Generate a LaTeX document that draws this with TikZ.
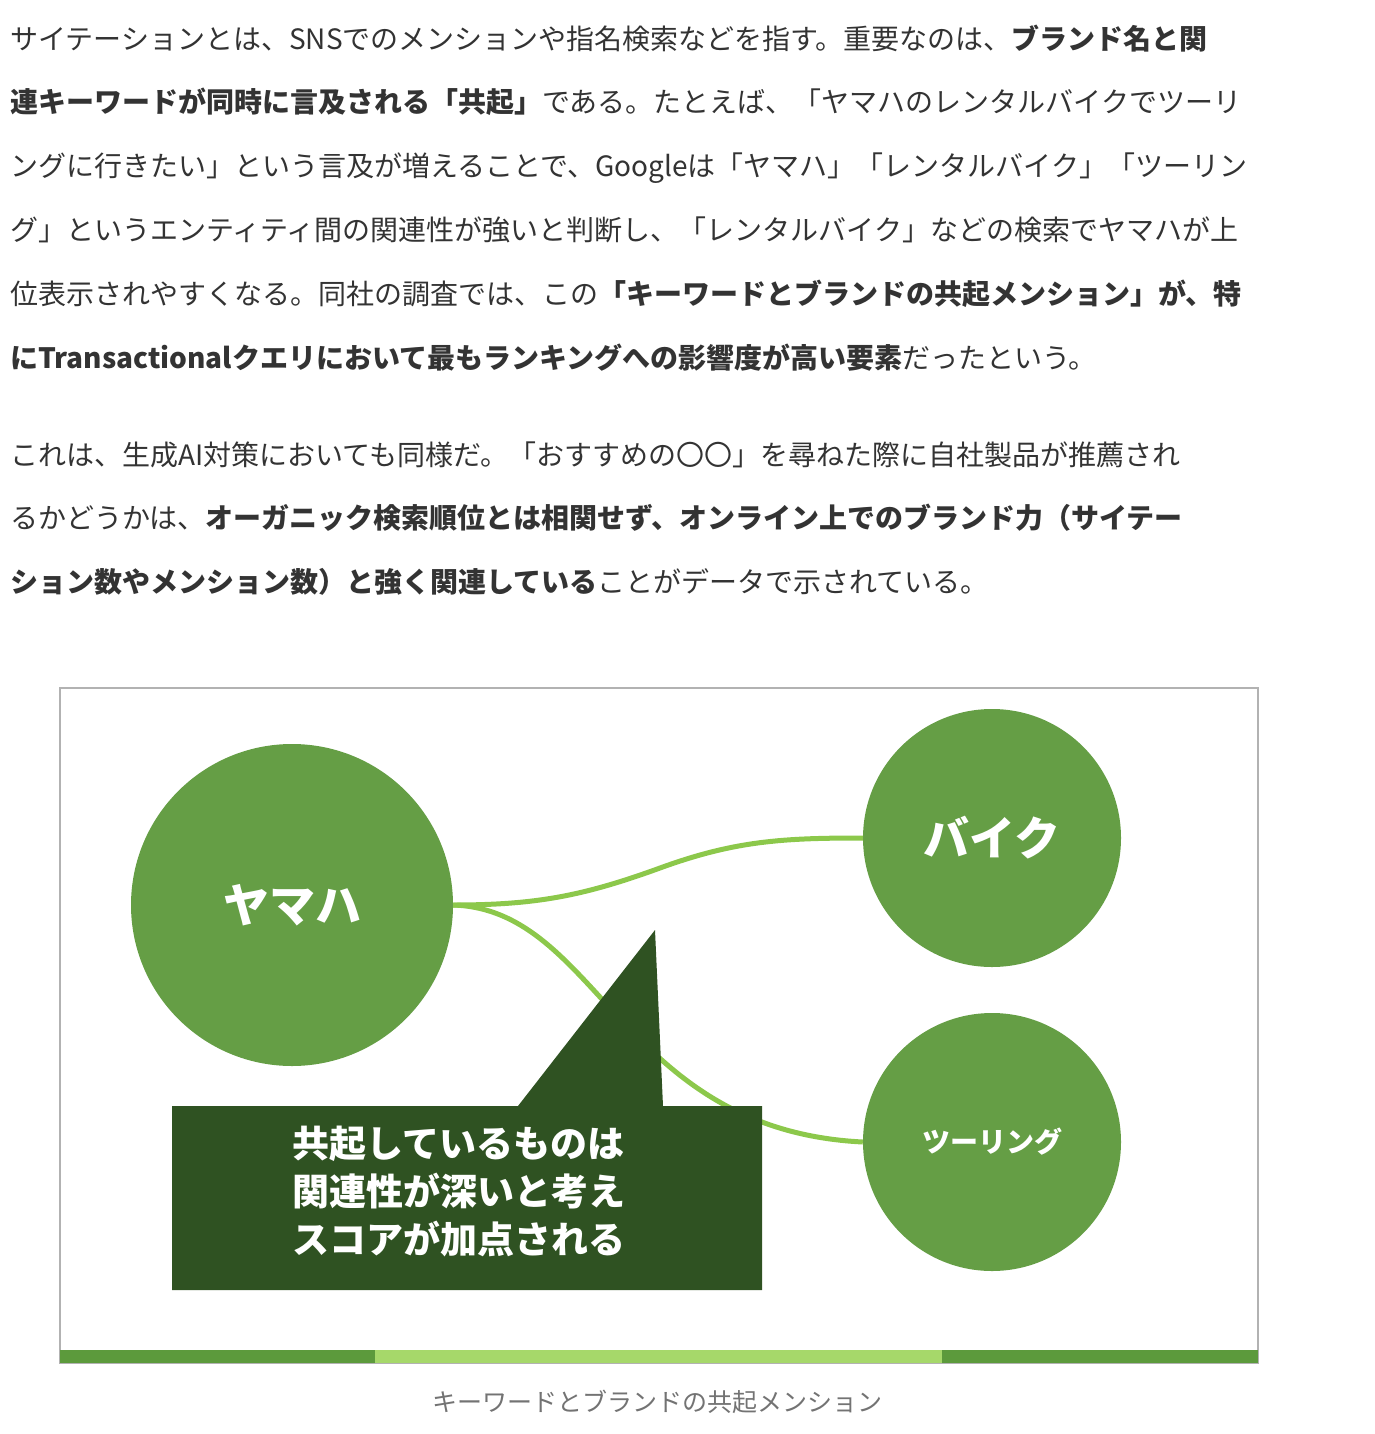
\documentclass[tikz,border=0pt]{standalone}
\usepackage{fontspec}
\setmainfont{Noto Sans CJK JP}
\usepackage{xcolor}
\definecolor{body}{HTML}{333333}
\definecolor{disc}{HTML}{659E45}
\definecolor{link}{HTML}{8CC84B}
\definecolor{callout}{HTML}{2F5222}
\definecolor{bandA}{HTML}{5C9A3C}
\definecolor{bandB}{HTML}{A6D86A}
\newcommand{\para}{\fontsize{28}{34}\selectfont}

\begin{document}
\begin{tikzpicture}[x=1pt, y=-1pt,
  line/.style = {anchor=base west, inner sep=0pt, text=body, font=\para},
  word/.style = {draw=none, circle, fill=disc, text=white, font=\bfseries},
  tie/.style = {draw=link, line width=5pt}]
  \useasboundingbox (0,0) rectangle (1374,1434);
  % paragraphs
  \node[line] (l1) at (10,50) {サイテーションとは、SNSでのメンションや指名検索などを指す。重要なのは、\textbf{ブランド名と関}};
  \node[line] (l2) at (10,113) {\textbf{連キーワードが同時に言及される「共起」}である。たとえば、「ヤマハのレンタルバイクでツーリ};
  \node[line] (l3) at (10,177) {ングに行きたい」という言及が増えることで、Googleは「ヤマハ」「レンタルバイク」「ツーリン};
  \node[line] (l4) at (10,240) {グ」というエンティティ間の関連性が強いと判断し、「レンタルバイク」などの検索でヤマハが上};
  \node[line] (l5) at (10,304) {位表示されやすくなる。同社の調査では、この\textbf{「キーワードとブランドの共起メンション」が、特}};
  \node[line] (l6) at (10,368) {\textbf{にTransactionalクエリにおいて最もランキングへの影響度が高い要素}だったという。};
  \node[line] (l7) at (10,465) {これは、生成AI対策においても同様だ。「おすすめの〇〇」を尋ねた際に自社製品が推薦され};
  \node[line] (l8) at (10,528) {るかどうかは、\textbf{オーガニック検索順位とは相関せず、オンライン上でのブランド力（サイテー}};
  \node[line] (l9) at (10,592) {\textbf{ション数やメンション数）と強く関連している}ことがデータで示されている。};
  % figure
  \draw[draw=gray!60, line width=1.5pt] (60,688) rectangle (1258,1363);
  \fill[bandA] (60,1350) rectangle (375,1363);
  \fill[bandB] (375,1350) rectangle (942,1363);
  \fill[bandA] (942,1350) rectangle (1258,1363);
  \node[word, minimum size=322pt, font=\bfseries\fontsize{46}{50}\selectfont] (yamaha) at (292,905) {ヤマハ};
  \node[word, minimum size=258pt, font=\bfseries\fontsize{46}{50}\selectfont] (bike) at (992,838) {バイク};
  \node[word, minimum size=258pt, font=\bfseries\fontsize{28}{32}\selectfont] (touring) at (992,1142) {ツーリング};
  \coordinate (kink) at (660,868);
  \draw[tie] (yamaha.east) to[out=0, in=200] (kink) to[out=20, in=180] (bike.west);
  \draw[tie] (yamaha.east) .. controls (600,910) and (620,1130) .. (touring.west);
  \fill[callout] (172,1106) -- (518,1106) -- (655,930) -- (663,1106) -- (762,1106)
    -- (762,1290) -- (172,1290) -- cycle;
  \node[anchor=north west, text=white, align=left, inner sep=0pt,
    font=\bfseries\fontsize{37}{48}\selectfont] (note) at (292,1126)
    {共起しているものは\\関連性が深いと考え\\スコアが加点される};
  \node[text=gray!90!black, font=\fontsize{25}{30}\selectfont] (caption) at (657,1402) {キーワードとブランドの共起メンション};
\end{tikzpicture}
\end{document}
